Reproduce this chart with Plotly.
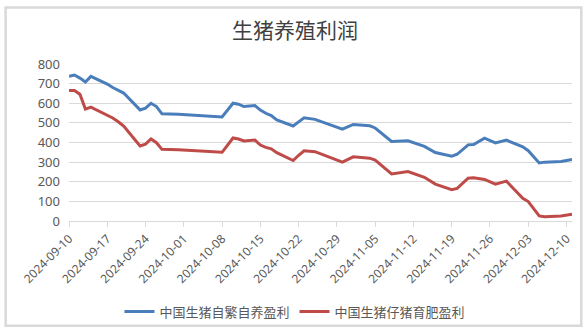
import plotly.graph_objects as go

dates = ["2024-09-10", "2024-09-11", "2024-09-12", "2024-09-13", "2024-09-14",
         "2024-09-17", "2024-09-18", "2024-09-19", "2024-09-20", "2024-09-23",
         "2024-09-24", "2024-09-25", "2024-09-26", "2024-09-27", "2024-09-30",
         "2024-10-08", "2024-10-10", "2024-10-11", "2024-10-12", "2024-10-14",
         "2024-10-15", "2024-10-16", "2024-10-17", "2024-10-18", "2024-10-21",
         "2024-10-22", "2024-10-23", "2024-10-25", "2024-10-28", "2024-10-30",
         "2024-11-01", "2024-11-04", "2024-11-05", "2024-11-08", "2024-11-11",
         "2024-11-13", "2024-11-14", "2024-11-16", "2024-11-19", "2024-11-20",
         "2024-11-22", "2024-11-23", "2024-11-25", "2024-11-27", "2024-11-29",
         "2024-12-02", "2024-12-03", "2024-12-05", "2024-12-06", "2024-12-09",
         "2024-12-11"]

self_breeding = [737, 744, 728, 708, 737,
                 698, 680, 665, 652, 566,
                 575, 600, 583, 546, 544,
                 530, 600, 595, 583, 588,
                 565, 549, 537, 515, 484,
                 505, 526, 518, 488, 468,
                 492, 485, 474, 405, 409,
                 390, 380, 349, 330, 340,
                 388, 390, 422, 398, 412,
                 378, 358, 296, 300, 303,
                 313]

piglet_fattening = [665, 665, 646, 570, 580,
                    541, 525, 506, 484, 382,
                    392, 418, 399, 365, 363,
                    350, 423, 418, 408, 413,
                    387, 375, 368, 348, 308,
                    335, 358, 353, 322, 300,
                    327, 320, 310, 240, 252,
                    232, 223, 188, 160, 166,
                    218, 220, 212, 188, 203,
                    116, 99, 26, 22, 25,
                    34]

name_a = "中国生猪自繁自养盈利"
name_b = "中国生猪仔猪育肥盈利"
title = "生猪养殖利润"

fig = go.Figure()
fig.add_trace(go.Scatter(x=dates, y=self_breeding, mode="lines", name=name_a,
                         line=dict(color="#4A7EBB", width=3)))
fig.add_trace(go.Scatter(x=dates, y=piglet_fattening, mode="lines", name=name_b,
                         line=dict(color="#BE4B48", width=3)))

L, R, T, B = 69.3, 16.3, 64.3, 109.3
W, H = 588, 330
pw, ph = W - L - R, H - T - B

def px2paper_x(px):
    return (px - L) / pw

def px2paper_y(py):
    return (H - B - py) / ph

fig.update_layout(
    width=W, height=H,
    margin=dict(l=L, r=R, t=T, b=B, pad=0, autoexpand=False),
    paper_bgcolor="white", plot_bgcolor="white",
    font=dict(family="Noto Sans CJK SC, Noto Sans, sans-serif", color="#595959"),
    title=dict(text=title, x=295 / W, xref="container", xanchor="center",
               y=1 - 31 / H, yref="container", yanchor="middle",
               font=dict(size=21, color="#404040",
                         family="Noto Sans CJK SC, sans-serif")),
    showlegend=True,
    legend=dict(orientation="h", x=px2paper_x(295), xanchor="center",
                y=px2paper_y(311), yanchor="middle",
                font=dict(size=13, color="#595959"),
                itemwidth=30, bgcolor="rgba(0,0,0,0)"),
    xaxis=dict(type="date", range=["2024-09-10", "2024-12-11"],
               tick0="2024-09-10", dtick=7 * 86400000, tickformat="%Y-%m-%d",
               tickangle=-45, showgrid=False, showline=True,
               linecolor="#D9D9D9", linewidth=1, ticks="outside",
               ticklen=5, tickcolor="#D9D9D9", automargin=False,
               tickfont=dict(size=12, color="#595959",
                             family="Noto Sans, sans-serif")),
    yaxis=dict(range=[0, 800], dtick=100, showgrid=True, gridcolor="#D9D9D9",
               gridwidth=1, zeroline=False, showline=False, ticks="",
               ticklabelstandoff=8, automargin=False,
               tickfont=dict(size=13, color="#595959",
                             family="Noto Sans, sans-serif")),
    shapes=[dict(type="rect", xref="paper", yref="paper",
                 x0=px2paper_x(6), x1=px2paper_x(581),
                 y0=px2paper_y(325), y1=px2paper_y(8),
                 line=dict(color="#D9D9D9", width=2.5), layer="below")],
)

fig.write_html("out.html")
